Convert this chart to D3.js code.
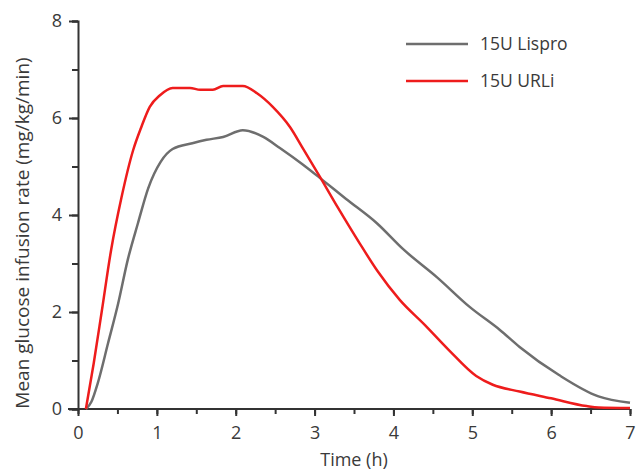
<!DOCTYPE html>
<html><head><meta charset="utf-8">
<script src="https://cdn.jsdelivr.net/npm/d3@7"></script>
<style>
body{margin:0;background:#fff;}
text{font-family:"Open Sans","Noto Sans",sans-serif;fill:#3a3a3a;}
</style></head>
<body><svg id="c" width="638" height="470"></svg>
<script>
const lisproTime = [0.1,0.17,0.25,0.38,0.51,0.63,0.76,0.89,1.05,1.2,1.45,1.63,1.84,2.09,2.35,2.56,2.85,3.07,3.4,3.79,4.12,4.55,4.97,5.35,5.6,6.1,6.6,7.0];
const lisproRate = [0,0.15,0.53,1.35,2.18,3.07,3.83,4.55,5.1,5.36,5.48,5.55,5.61,5.75,5.61,5.38,5.04,4.76,4.33,3.83,3.3,2.72,2.1,1.63,1.28,0.7,0.26,0.13];
const urliTime = [0.1,0.2,0.3,0.42,0.55,0.7,0.8,0.91,1.04,1.2,1.42,1.55,1.71,1.84,2.09,2.27,2.47,2.69,2.85,3.07,3.3,3.57,3.8,4.08,4.4,4.7,5.05,5.26,5.6,6.0,6.45,6.6,7.0];
const urliRate = [0,0.95,2.0,3.28,4.35,5.34,5.8,6.23,6.47,6.62,6.62,6.58,6.58,6.66,6.66,6.51,6.23,5.81,5.38,4.78,4.14,3.42,2.84,2.25,1.73,1.22,0.68,0.5,0.36,0.22,0.06,0.03,0.02];
const seriesNames = ["15U Lispro","15U URLi"];
const seriesColors = ["#6e6e6e","#ee1c1c"];
const xTicks = [0,1,2,3,4,5,6,7];
const yTicks = [0,2,4,6,8];

const svg = d3.select("#c");
const x = d3.scaleLinear().domain([0,7]).range([78,630]);
const y = d3.scaleLinear().domain([0,8]).range([409,21]);

const axisColor = "#333";
const gx = svg.append("g").attr("transform","translate(0,409)");
gx.call(d3.axisBottom(x).tickValues(d3.range(0,7.01,0.5)).tickSize(5).tickFormat(""));
const gx2 = svg.append("g").attr("transform","translate(0,409)");
gx2.call(d3.axisBottom(x).tickValues(xTicks).tickSize(7).tickPadding(10).tickFormat(d3.format("d")));
const gy = svg.append("g").attr("transform","translate(78,0)");
gy.call(d3.axisLeft(y).tickValues(d3.range(0,8.01,1)).tickSize(6).tickFormat(""));
const gy2 = svg.append("g").attr("transform","translate(78,0)");
gy2.call(d3.axisLeft(y).tickValues(yTicks).tickSize(9).tickPadding(7).tickFormat(d3.format("d")));
[gx,gx2,gy,gy2].forEach(g=>{
  g.selectAll("path.domain").attr("stroke",axisColor).attr("stroke-width",2);
  g.selectAll("line").attr("stroke",axisColor).attr("stroke-width",2);
  g.selectAll("text").attr("font-size",18).attr("fill","#3a3a3a").attr("font-family","Open Sans, Noto Sans, sans-serif").attr("font-weight",400);
});
gx.select("path.domain").attr("d","M68,0H630");
gx2.select("path.domain").remove();
gy2.select("path.domain").remove();

const line = d3.line().x(d=>x(d[0])).y(d=>y(d[1])).curve(d3.curveMonotoneX);
const series = [d3.zip(lisproTime,lisproRate), d3.zip(urliTime,urliRate)];
series.forEach((s,i)=>{
  svg.append("path").datum(s).attr("d",line).attr("fill","none")
    .attr("stroke",seriesColors[i]).attr("stroke-width",2.5).attr("stroke-linejoin","round");
});

const leg = svg.append("g");
seriesNames.forEach((n,i)=>{
  const yy = 44 + i*37;
  leg.append("line").attr("x1",406).attr("x2",468).attr("y1",yy).attr("y2",yy)
    .attr("stroke",seriesColors[i]).attr("stroke-width",2.5);
  leg.append("text").attr("x",480).attr("y",yy+6).attr("font-size",17.5).text(n);
});

svg.append("text").attr("x",354).attr("y",466).attr("text-anchor","middle").attr("font-size",18).text("Time (h)");
svg.append("text").attr("transform","translate(29,233) rotate(-90)").attr("text-anchor","middle").attr("font-size",19).text("Mean glucose infusion rate (mg/kg/min)");
</script></body></html>
